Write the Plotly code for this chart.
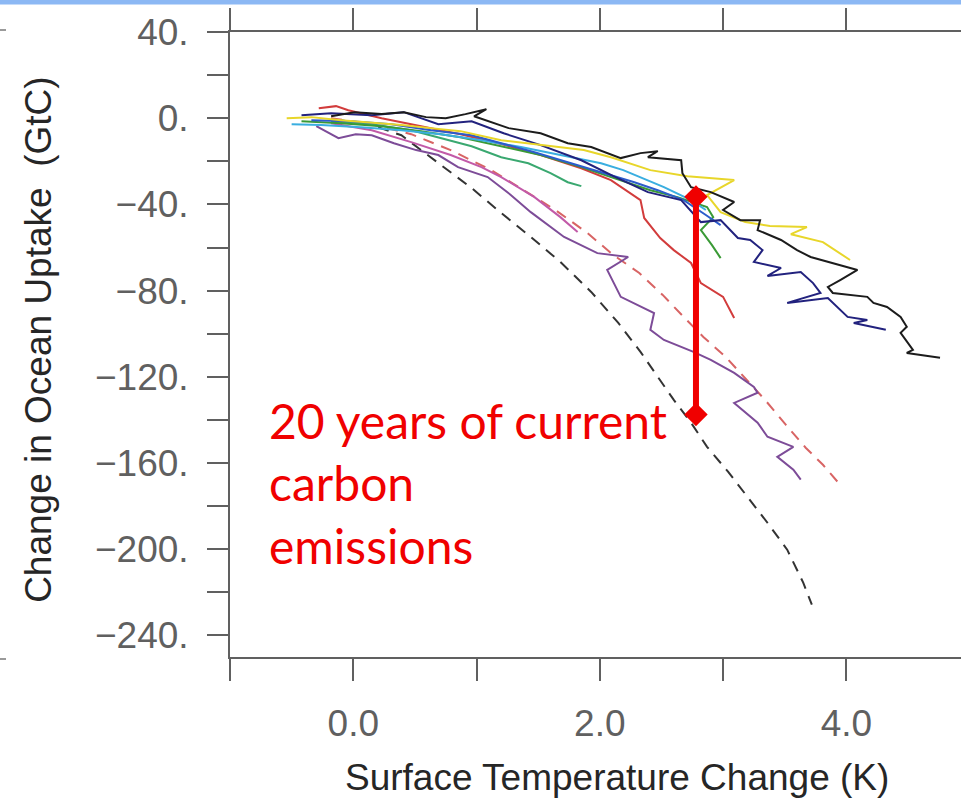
import plotly.graph_objects as go

# Surface temperature change (K) and change in ocean carbon uptake (GtC), per model
black_dt = [-0.18, 0.01, 0.23, 0.41, 0.59, 0.75, 0.91, 1.08, 0.98, 1.26, 1.52, 1.74, 1.93, 2.17, 2.33, 2.47, 2.39,
            2.66, 2.67, 2.74, 2.90, 3.09, 3.00, 3.14, 3.30, 3.28, 3.47, 3.60, 3.71, 3.89, 4.09, 3.95, 3.85, 3.89,
            4.17, 4.22, 4.33, 4.44, 4.49, 4.44, 4.54, 4.49, 4.76]
black_dco = [0.9, 2.8, 1.9, 2.8, 0.5, 0.0, 1.9, 4.2, 0.9, -4.6, -7.0, -11.6, -13.4, -18.5, -16.2, -15.3, -18.1,
             -19.5, -25.5, -32.0, -34.3, -38.9, -42.6, -47.3, -47.3, -51.9, -56.5, -61.2, -64.4, -67.2, -70.4,
             -75.1, -78.3, -81.1, -82.9, -85.7, -87.6, -92.2, -96.8, -99.6, -107.5, -108.9, -111.2]

yellow_dt = [-0.54, -0.34, -0.10, 0.15, 0.39, 0.63, 0.87, 1.20, 1.52, 1.87, 2.09, 2.41, 2.71, 3.09, 2.87, 2.98,
             3.18, 3.38, 3.68, 3.55, 3.81, 4.03]
yellow_dco = [0.0, 0.5, -0.9, -1.9, -3.2, -4.6, -6.0, -10.2, -12.5, -14.8, -18.1, -24.1, -26.9, -28.7, -35.7,
              -43.6, -48.2, -50.0, -50.5, -53.8, -57.5, -65.8]

navy_dt = [-0.42, -0.18, 0.15, 0.41, 0.69, 0.96, 1.22, 1.52, 1.85, 2.11, 2.39, 2.66, 2.82, 2.98, 3.12, 3.22,
           3.32, 3.25, 3.47, 3.36, 3.63, 3.73, 3.79, 3.52, 3.85, 3.95, 4.01, 4.17, 4.06, 4.32]
navy_dco = [1.4, 2.3, 1.4, 2.8, -2.8, -1.4, -7.0, -12.5, -19.5, -26.9, -34.3, -38.0, -48.2, -47.3, -55.6, -56.5,
            -61.2, -66.7, -69.5, -73.2, -71.4, -76.5, -81.1, -85.7, -83.4, -89.0, -92.2, -93.6, -95.0, -98.2]

blue_dt = [-0.34, -0.02, 0.31, 0.63, 0.96, 1.20, 1.47, 1.74, 2.01, 2.28, 2.47, 2.68, 2.86, 2.98]
blue_dco = [-0.9, -1.4, -2.8, -5.6, -7.9, -11.6, -15.8, -20.4, -25.0, -29.7, -33.4, -38.0, -44.9, -49.6]

cyan_dt = [-0.50, -0.26, 0.06, 0.39, 0.71, 1.04, 1.36, 1.68, 2.01, 2.19, 2.52, 2.74, 2.86]
cyan_dco = [-2.8, -3.2, -4.2, -5.6, -7.4, -10.2, -13.4, -17.1, -20.9, -24.1, -32.0, -38.0, -42.6]

seagreen_dt = [-0.18, 0.15, 0.47, 0.71, 0.96, 1.20, 1.42, 1.60, 1.74, 1.85]
seagreen_dco = [-1.4, -2.8, -5.6, -9.3, -13.0, -18.1, -20.9, -25.5, -29.7, -31.5]

green_dt = [-0.42, -0.10, 0.23, 0.55, 0.87, 1.20, 1.52, 1.85, 2.17, 2.41, 2.63, 2.87, 2.92, 2.82, 2.91, 2.98]
green_dco = [-1.4, -2.3, -3.7, -6.0, -8.8, -13.0, -17.1, -22.7, -28.7, -33.4, -36.6, -41.2, -45.9, -51.9,
             -58.9, -64.9]

red_dt = [-0.28, -0.14, -0.04, 0.23, 0.55, 0.87, 1.20, 1.52, 1.85, 2.09, 2.33, 2.36, 2.49, 2.60, 2.74, 2.82,
          3.00, 3.09]
red_dco = [4.6, 5.6, 3.7, 0.0, -3.7, -7.4, -12.0, -17.1, -23.2, -28.7, -38.0, -46.3, -55.6, -61.2, -67.2, -76.5,
           -82.9, -92.7]

magenta_dt = [-0.18, 0.15, 0.47, 0.79, 1.04, 1.20, 1.47, 1.68, 1.82]
magenta_dco = [-2.3, -5.6, -11.1, -17.1, -22.7, -27.3, -36.6, -45.9, -52.8]

purple_dt = [-0.30, -0.24, -0.12, 0.02, 0.15, 0.33, 0.51, 0.69, 0.85, 1.09, 1.28, 1.44, 1.71, 1.98, 2.23, 2.06,
             2.17, 2.44, 2.41, 2.52, 2.76, 2.90, 3.09, 3.25, 3.28, 3.09, 3.28, 3.36, 3.57, 3.44, 3.57, 3.63]
purple_dco = [-3.7, -5.6, -9.3, -7.4, -7.9, -11.6, -14.8, -17.1, -22.7, -27.3, -35.7, -43.6, -55.1, -62.6, -64.4,
              -70.4, -82.9, -90.4, -98.2, -102.9, -108.4, -112.1, -118.2, -124.7, -127.4, -132.1, -141.3, -147.8,
              -152.5, -157.1, -163.1, -167.7]

# Models drawn with dashed lines
dash_black_dt = [-0.10, 0.15, 0.39, 0.55, 0.75, 0.96, 1.20, 1.44, 1.68, 1.93, 2.15, 2.33, 2.47, 2.60, 2.74, 2.87,
                 3.04, 3.20, 3.36, 3.52, 3.65, 3.72]
dash_black_dco = [-0.9, -3.2, -7.9, -14.8, -23.2, -32.4, -44.0, -55.1, -66.7, -80.6, -95.0, -108.4, -120.0,
                  -130.7, -141.3, -152.5, -164.0, -175.6, -187.7, -200.2, -215.5, -225.7]

dash_red_dt = [-0.18, 0.15, 0.47, 0.79, 1.12, 1.38, 1.64, 1.90, 2.11, 2.32, 2.51, 2.68, 2.84, 3.02, 3.18, 3.34,
               3.51, 3.67, 3.81, 3.95]
dash_red_dco = [0.0, -2.8, -7.4, -14.8, -24.1, -33.4, -42.6, -53.3, -63.5, -71.8, -82.0, -92.2, -101.5, -110.7,
                -120.5, -130.7, -142.3, -152.9, -160.8, -170.1]

# Bracket: 20 years of current carbon emissions
bracket_dt = [2.78, 2.78]
bracket_dco = [-36.5, -137.5]
bracket_text = "20 years of current<br>carbon<br>emissions"

# Axis ticks
x_tickvals = [-1, 0, 1, 2, 3, 4, 5]
x_ticktext = ["", "0.0", "", "2.0", "", "4.0", ""]
y_tickvals = list(range(-240, 41, 20))
y_ticktext = [(("\u2212" if v < 0 else "") + f"{abs(v)}.") if v % 40 == 0 else "" for v in y_tickvals]

solid_series = [
    (purple_dt, purple_dco, "#7d4c98"),
    (magenta_dt, magenta_dco, "#c25aa8"),
    (red_dt, red_dco, "#d23c3c"),
    (seagreen_dt, seagreen_dco, "#3aa870"),
    (green_dt, green_dco, "#3a9a36"),
    (cyan_dt, cyan_dco, "#3aaee0"),
    (blue_dt, blue_dco, "#2c5ccc"),
    (navy_dt, navy_dco, "#22227e"),
    (yellow_dt, yellow_dco, "#e8d62a"),
    (black_dt, black_dco, "#1c1c1c"),
]
dashed_series = [
    (dash_black_dt, dash_black_dco, "#333333"),
    (dash_red_dt, dash_red_dco, "#d86464"),
]

fig = go.Figure()

for xs, ys, col in dashed_series:
    fig.add_trace(go.Scatter(x=xs, y=ys, mode="lines",
                             line=dict(color=col, width=2, dash="11px,8px"),
                             showlegend=False, hoverinfo="skip"))

for xs, ys, col in solid_series:
    fig.add_trace(go.Scatter(x=xs, y=ys, mode="lines",
                             line=dict(color=col, width=2),
                             showlegend=False, hoverinfo="skip"))

fig.add_trace(go.Scatter(x=bracket_dt, y=bracket_dco, mode="lines+markers",
                         line=dict(color="#f00000", width=6),
                         marker=dict(symbol="diamond", size=18, color="#f00000"),
                         showlegend=False, hoverinfo="skip"))

axis_font = dict(family="Liberation Sans, Arial, sans-serif", size=37, color="#606060")
title_font = dict(family="Liberation Sans, Arial, sans-serif", size=37, color="#262626")

fig.update_xaxes(range=[-1, 4.93], tickmode="array", tickvals=x_tickvals, ticktext=x_ticktext,
                 ticks="outside", ticklen=22, tickwidth=2, tickcolor="#606060",
                 showline=True, linewidth=2, linecolor="#606060", mirror="ticks",
                 showgrid=False, zeroline=False, tickfont=axis_font, ticklabelstandoff=11)
fig.update_yaxes(range=[-250, 40], tickmode="array", tickvals=y_tickvals, ticktext=y_ticktext,
                 ticks="outside", ticklen=21, tickwidth=2, tickcolor="#606060",
                 showline=True, linewidth=2, linecolor="#606060", mirror=False,
                 showgrid=False, zeroline=False, tickfont=axis_font, ticklabelstandoff=11)

fig.add_annotation(text="Surface Temperature Change (K)", xref="paper", yref="paper",
                   x=0.529, y=-0.193, xanchor="center", yanchor="middle",
                   showarrow=False, font=title_font)
fig.add_annotation(text="Change in Ocean Uptake  (GtC)", xref="paper", yref="paper",
                   x=-0.263, y=0.507, xanchor="center", yanchor="middle", textangle=-90,
                   showarrow=False, font=title_font)
fig.add_annotation(text=bracket_text, xref="x", yref="y", x=-0.70, y=-126,
                   xanchor="left", yanchor="top", align="left", showarrow=False,
                   font=dict(family="Lato, Carlito, sans-serif", size=48, color="#f00000"))

# Slide frame remnants: thin blue strip along the top and small marks on the left edge
fig.add_shape(type="rect", xref="paper", yref="paper",
              x0=-0.32, x1=1.0, y0=1 + 27.5 / 625, y1=1 + 33 / 625,
              fillcolor="#8cb8f4", line_width=0, layer="above")
for yv in [1 + 2 / 625, -2 / 625]:
    fig.add_shape(type="line", xref="paper", yref="paper",
                  x0=-230 / 731, x1=-224 / 731, y0=yv, y1=yv,
                  line=dict(color="#9a9a9a", width=2))

fig.update_layout(width=961, height=804, margin=dict(l=230, r=0, t=32, b=147),
                  paper_bgcolor="white", plot_bgcolor="white")

fig.write_html("out.html")
